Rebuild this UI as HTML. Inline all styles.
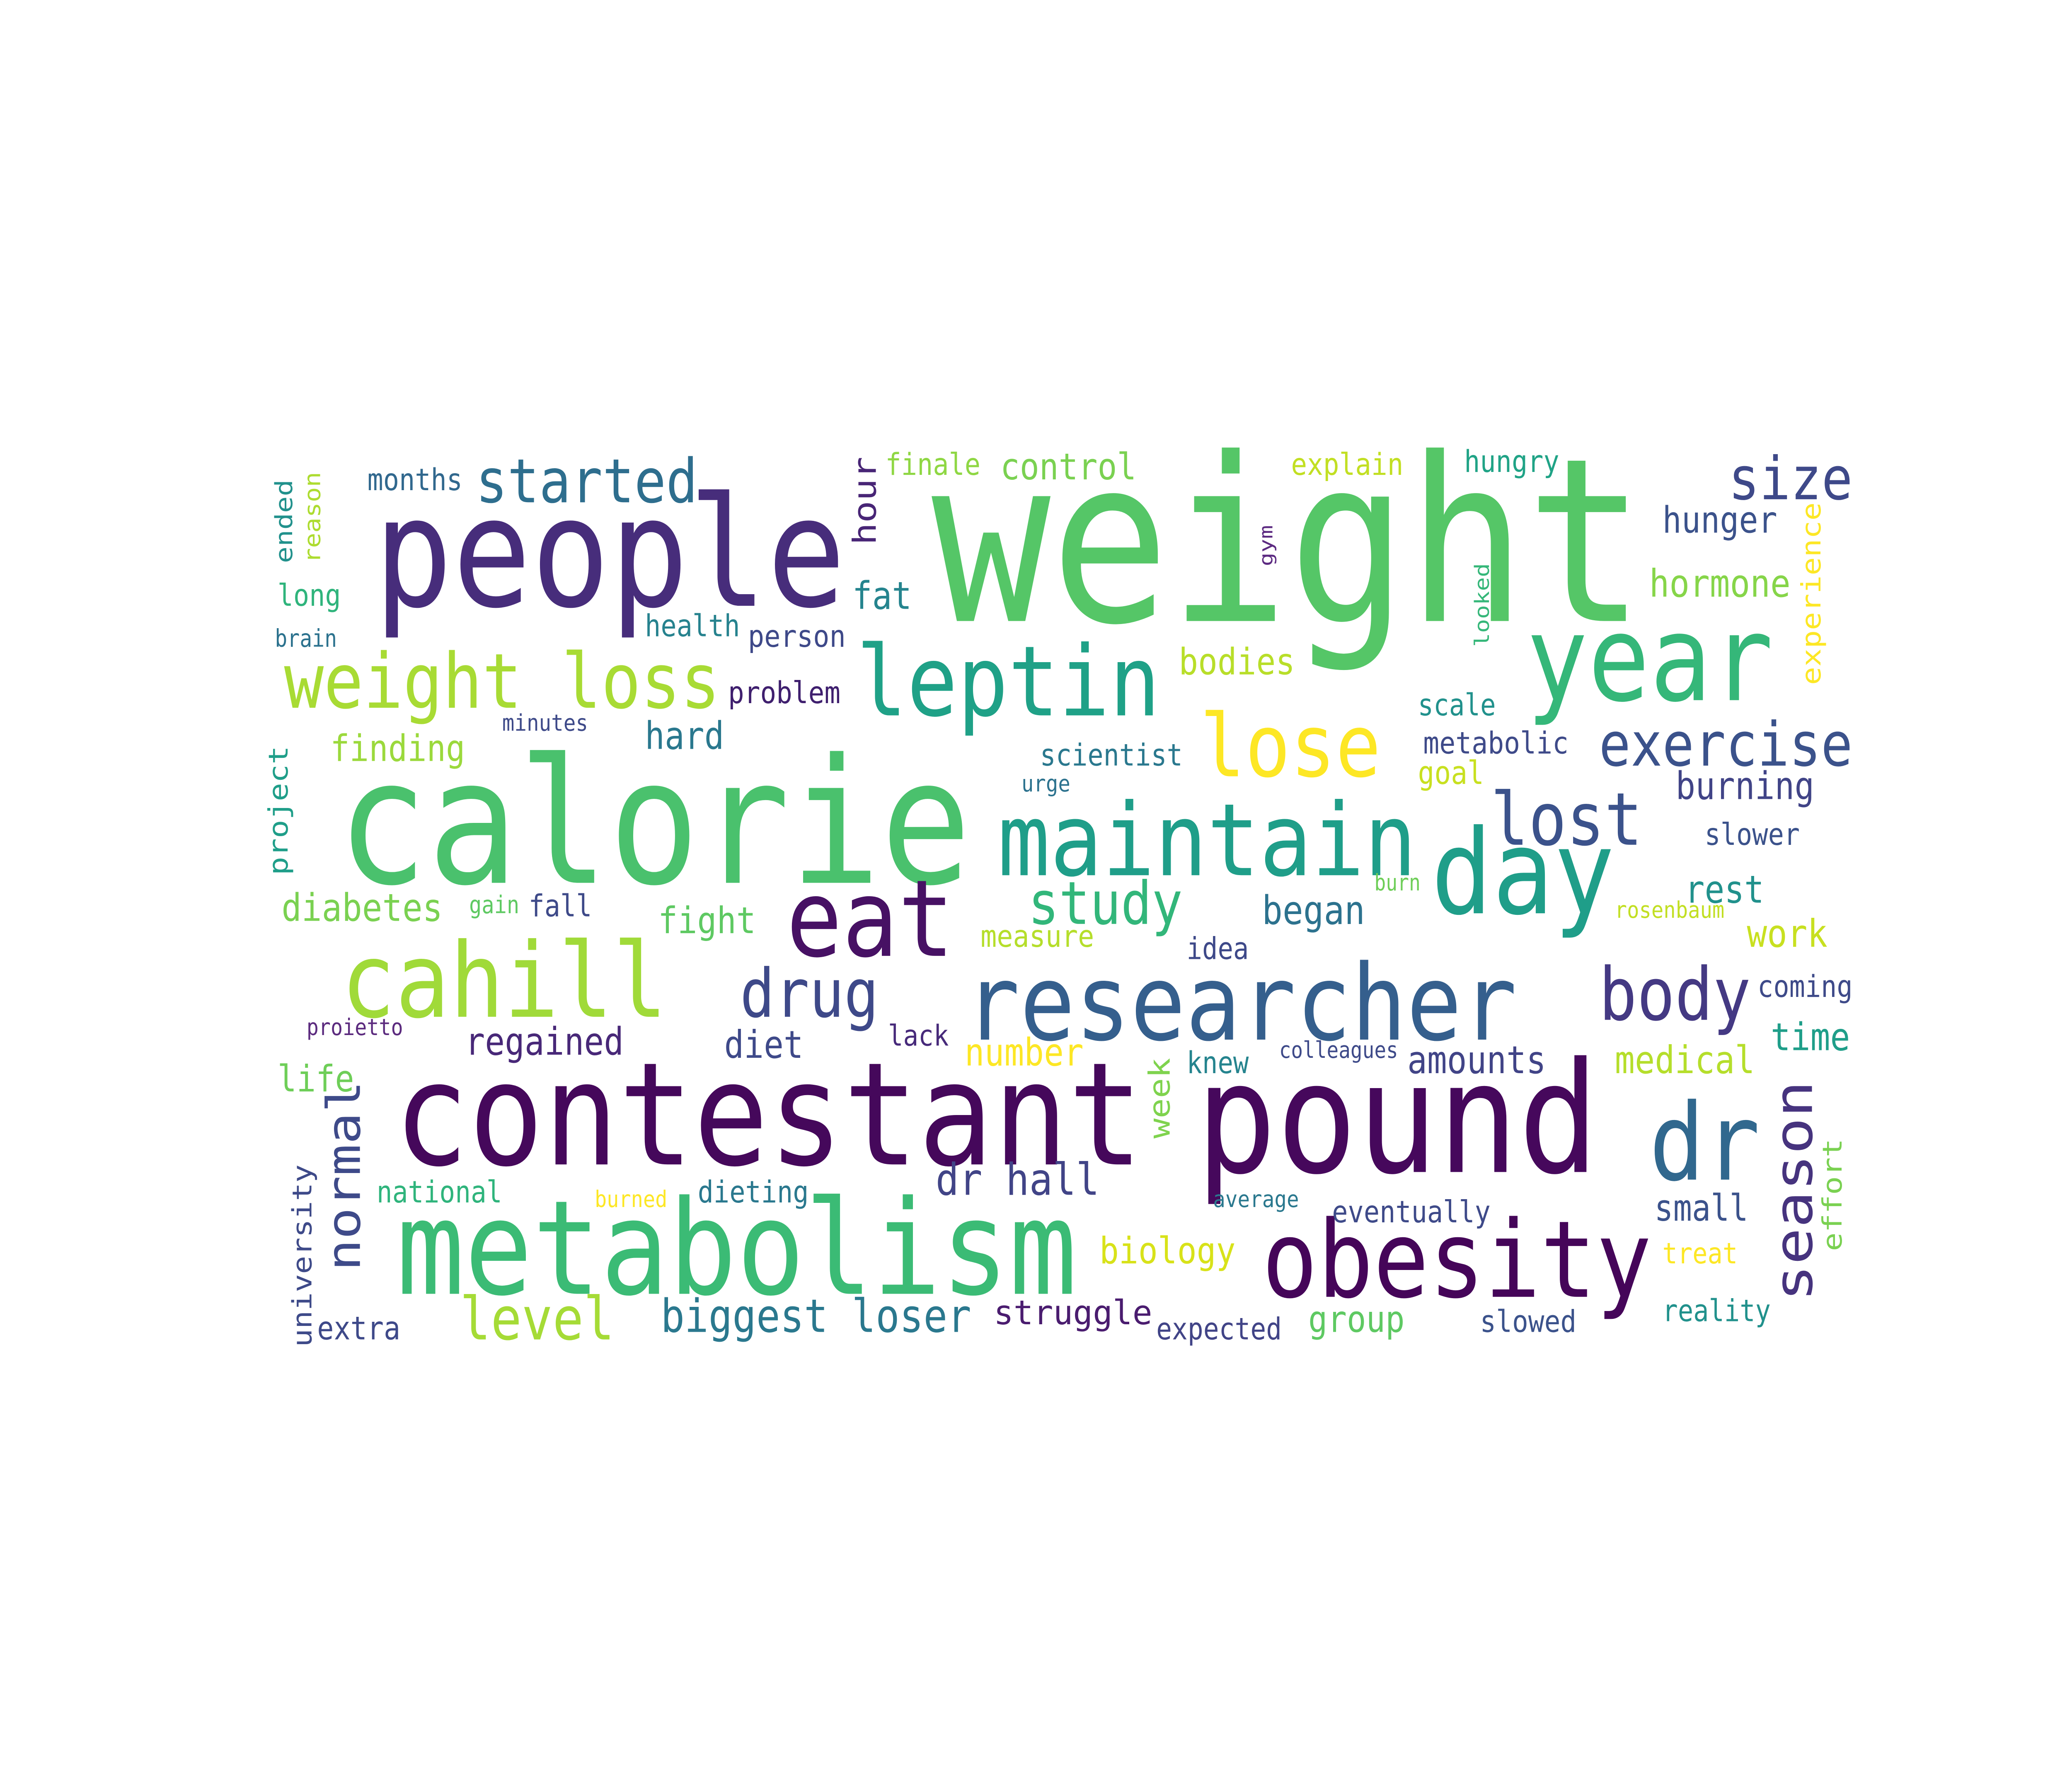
<!DOCTYPE html>
<html><head><meta charset="utf-8"><style>
html,body{margin:0;padding:0;background:#fff;width:100%;height:100%;overflow:hidden;}
svg{display:block;width:100vw;height:100vh;}
text{font-family:"DejaVu Sans Mono","Liberation Mono",monospace;}
</style></head><body>
<svg id="cloud" viewBox="0 0 1568 1176" preserveAspectRatio="none" xmlns="http://www.w3.org/2000/svg">
<rect width="1568" height="1176" fill="#ffffff"/>
<g id="words"></g>
</svg>
<script>
// [text, x, baseline/bottom, length, fontSize, color, vertical]
const words = [
["weight",705,408,540,150,"#55c667",0],
["people",283,398,357,100,"#472d7b",0],
["calorie",255,580,480,114,"#4ac16d",0],
["contestant",298,765,567,94,"#45085b",0],
["pound",905,770,305,101,"#46085c",0],
["metabolism",300,850,515,86,"#3bbb75",0],
["obesity",955,852,295,70,"#450559",0],
["researcher",730,683,418,69,"#355f8d",0],
["maintain",755,575,317,66,"#1f9e89",0],
["leptin",648,470,230,64,"#1fa187",0],
["lose",908,510,137,57,"#fde725",0],
["year",1155,460,187,78,"#35b779",0],
["day",1083,600,139,77,"#1f9e89",0],
["dr",1248,775,84,70,"#31688e",0],
["eat",595,628,127,70,"#471164",0],
["cahill",258,668,247,68,"#a0da39",0],
["weight loss",215,465,330,50,"#a8db34",0],
["started",360,330,168,40,"#2e6e8e",0],
["size",1308,328,94,39,"#3e4989",0],
["exercise",1210,503,192,40,"#3b528b",0],
["lost",1128,555,115,48,"#3b528b",0],
["drug",560,668,105,44,"#3e4989",0],
["body",1210,670,115,48,"#443983",0],
["study",778,607,117,39,"#32b67a",0],
["level",348,880,117,39,"#a5db36",0],
["biggest loser",500,875,235,30,"#2a788e",0],
["struggle",752,870,120,22,"#4a1c6f",0],
["dr hall",708,785,124,29,"#414487",0],
["control",757,315,103,24,"#7ad151",0],
["finale",670,312,72,20,"#8fd744",0],
["explain",977,312,85,20,"#c2df23",0],
["hungry",1108,310,72,20,"#20a386",0],
["hunger",1258,350,87,24,"#3b528b",0],
["hormone",1248,392,107,25,"#86d549",0],
["months",278,322,72,20,"#31688e",0],
["long",210,398,48,20,"#2fb47c",0],
["brain",208,425,47,16,"#2c728e",0],
["fat",645,400,45,25,"#25848e",0],
["health",488,418,72,20,"#26828e",0],
["person",566,425,74,20,"#3e4989",0],
["bodies",892,443,88,24,"#b8de29",0],
["problem",551,462,85,20,"#3f1f6e",0],
["minutes",380,480,65,15,"#3e4a89",0],
["hard",488,492,60,25,"#2a788e",0],
["finding",250,500,102,24,"#9bd93c",0],
["scientist",787,503,108,20,"#2a788e",0],
["urge",773,520,37,15,"#2c728e",0],
["scale",1073,470,59,20,"#21918c",0],
["metabolic",1077,495,110,20,"#3e4a89",0],
["goal",1073,515,50,21,"#c8e020",0],
["burning",1268,525,105,25,"#414487",0],
["slower",1290,555,72,20,"#3b528b",0],
["burn",1040,585,35,15,"#6ece58",0],
["rosenbaum",1222,603,83,15,"#c2df23",0],
["rest",1275,593,60,25,"#21918c",0],
["work",1322,622,61,25,"#c8e020",0],
["began",955,607,78,26,"#2c728e",0],
["coming",1330,655,72,20,"#3e4a89",0],
["idea",898,630,47,20,"#3e4989",0],
["measure",742,622,86,20,"#b5de2b",0],
["fight",498,613,74,24,"#5ec962",0],
["diabetes",213,605,122,25,"#7ad151",0],
["gain",355,600,38,16,"#5ec962",0],
["fall",400,602,48,20,"#3e4a89",0],
["proietto",232,680,73,15,"#5b2a7e",0],
["regained",352,693,120,25,"#482878",0],
["diet",548,695,60,25,"#3e4989",0],
["lack",672,687,46,19,"#472a7a",0],
["number",730,700,90,25,"#fde725",0],
["knew",898,705,47,20,"#25848e",0],
["colleagues",968,695,90,15,"#3e4a89",0],
["amounts",1065,705,105,25,"#414487",0],
["medical",1222,705,106,25,"#b5de2b",0],
["time",1340,690,60,25,"#1f9e89",0],
["life",210,717,58,24,"#6ece58",0],
["national",285,790,95,20,"#2fb47c",0],
["burned",450,793,55,15,"#fde725",0],
["dieting",528,790,84,20,"#2a788e",0],
["average",918,793,65,15,"#2a788e",0],
["eventually",1008,803,120,20,"#3e4a89",0],
["small",1252,802,71,24,"#3b528b",0],
["extra",240,880,63,21,"#3e4989",0],
["biology",832,830,103,24,"#d8e219",0],
["treat",1258,830,57,19,"#fde725",0],
["group",990,875,73,24,"#5ec962",0],
["expected",875,880,95,20,"#414487",0],
["slowed",1120,875,73,20,"#3b528b",0],
["reality",1258,868,82,20,"#21918c",0],
["normal",280,835,125,35,"#3e4a89",1],
["season",1380,855,145,40,"#46337e",1],
["hour",668,358,58,24,"#482576",1],
["ended",225,370,55,18,"#21918c",1],
["reason",246,370,60,17,"#addc30",1],
["project",222,575,85,20,"#1f9e89",1],
["experience",1382,450,120,20,"#fde725",1],
["looked",1130,425,55,15,"#35b779",1],
["gym",966,372,27,14,"#5c2a81",1],
["week",890,748,53,22,"#7fd34e",1],
["effort",1398,822,74,20,"#7ad151",1],
["university",240,885,120,20,"#3e4a89",1]
];
const g = document.getElementById('words');
const NS = "http://www.w3.org/2000/svg";
for (const w of words) {
  const [txt,x,y,len,size,color,vert] = w;
  const t = document.createElementNS(NS,'text');
  t.textContent = txt;
  t.setAttribute('font-size', size);
  t.setAttribute('fill', color);
  t.setAttribute('textLength', len);
  t.setAttribute('lengthAdjust', 'spacingAndGlyphs');
  if (vert) {
    const bx = x - 0.22*size;
    t.setAttribute('x', bx);
    t.setAttribute('y', y);
    t.setAttribute('transform', 'rotate(-90 '+bx+' '+y+')');
  } else {
    t.setAttribute('x', x);
    t.setAttribute('y', y);
  }
  
  
  g.appendChild(t);
}
</script>
</body></html>
